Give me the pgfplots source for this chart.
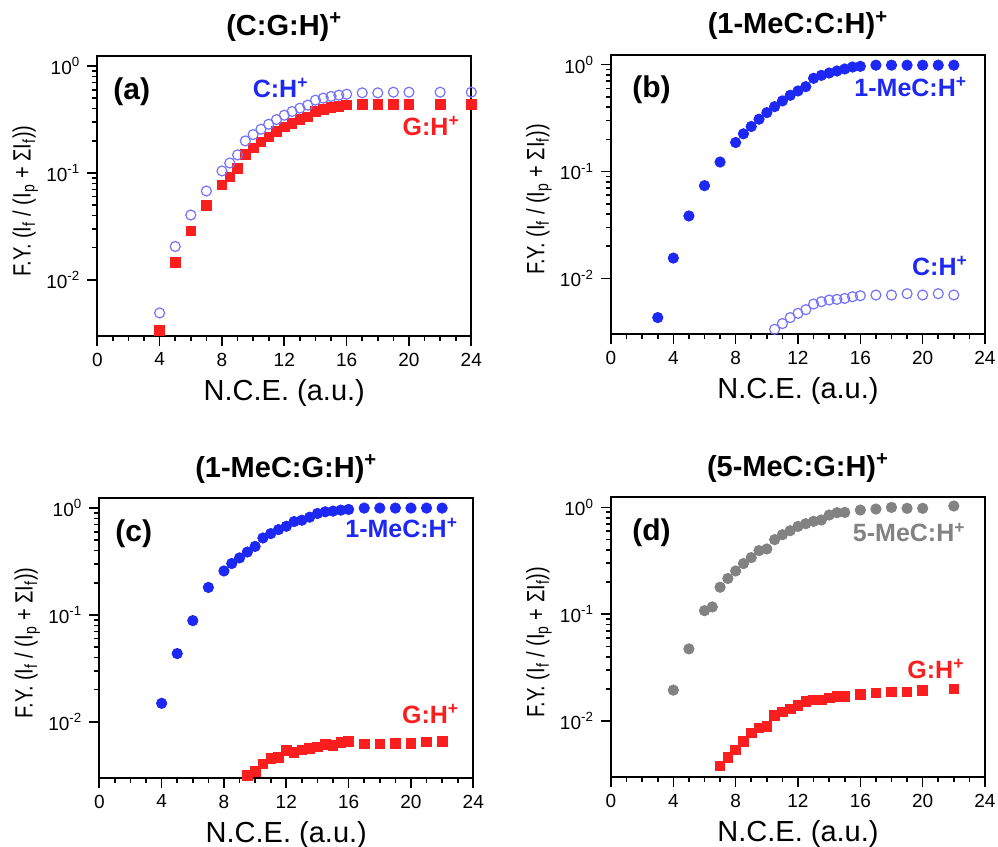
\documentclass[border=0pt]{standalone}
\usepackage{fontspec}
\setmainfont{Liberation Sans}
\usepackage{graphicx}
\usepackage{pgfplots}
\pgfplotsset{compat=1.18}
\definecolor{cblue}{RGB}{30,40,245}
\definecolor{copen}{RGB}{115,115,255}
\definecolor{cred}{RGB}{250,30,30}
\definecolor{cgray}{RGB}{130,130,130}
\tikzset{
  lbl/.style={font=\bfseries\fontsize{15}{17}\selectfont},
  ser/.style={font=\bfseries\fontsize{12.5}{14}\selectfont},
}
\pgfplotsset{
  filledc/.style={only marks, mark=*, mark size=2.6pt, mark options={draw=#1, fill=#1}},
  openc/.style={only marks, mark=o, mark size=2.5pt, mark options={draw=copen, line width=0.6pt}},
  sq/.style={only marks, mark=square*, mark size=2.4pt, mark options={draw=cred, fill=cred}},
  mypanel/.style={
  scale only axis, width=187pt, height=139.8pt,
  anchor=south west,
  ymin=0.003, ymax=1.24, xmin=0, xmax=24,
  xtick={0,4,...,24}, minor x tick num=3,
  ytick={0.01,0.1,1},
  yticklabels={10\textsuperscript{-2},10\textsuperscript{-1},10\textsuperscript{0}},
  xtick pos=bottom, ytick pos=left, tick align=outside,
  major tick length=5pt, minor tick length=2.5pt,
  axis line style={line width=1pt},
  every tick/.style={black, line width=0.8pt},
  tick label style={font=\fontsize{9.5}{11}\selectfont},
  xlabel={N.C.E. (a.u.)},
  ylabel={\scalebox{0.8}[1]{F.Y. (I\textsubscript{f} / (I\textsubscript{p} + ΣI\textsubscript{f}))}},
  xlabel style={font=\fontsize{14.5}{16}\selectfont, at={(axis description cs:0.5,-0.204)}, anchor=center},
  ylabel style={font=\fontsize{12.5}{14}\selectfont, at={(axis description cs:-0.1925,0.482)}, anchor=center},
  title style={font=\bfseries\fontsize{14.5}{16}\selectfont, at={(axis description cs:0.5,1)}, anchor=south, yshift=-2pt},
  },
}
\begin{document}
\begin{tikzpicture}
\path[use as bounding box] (0,0) rectangle (499pt,423.5pt);
% (a)
\begin{axis}[ymode=log, mypanel, /pgf/number format/assume math mode=true, at={(48.65pt,255.65pt)}, title={(C:G:H)\textsuperscript{+}}]
\addplot[sq] coordinates {(4,0.00335)(5,0.01454)(6,0.0286)(7,0.0494)(8,0.0772)(8.5,0.0917)(9,0.1106)(9.5,0.1496)(10,0.1714)(10.5,0.1954)(11,0.2176)(11.5,0.244)(12,0.27)(12.5,0.292)(13,0.316)(13.5,0.335)(14,0.376)(14.5,0.395)(15,0.41)(15.5,0.422)(16,0.434)(17,0.44)(18,0.44)(19,0.44)(20,0.44)(22,0.44)(24,0.44)};
\addplot[openc] coordinates {(4,0.0049)(5,0.0205)(6,0.0404)(7,0.0678)(8,0.1044)(8.5,0.124)(9,0.1476)(9.5,0.1995)(10,0.2286)(10.5,0.2565)(11,0.2858)(11.5,0.316)(12,0.347)(12.5,0.376)(13,0.404)(13.5,0.431)(14,0.48)(14.5,0.501)(15,0.52)(15.5,0.535)(16,0.546)(17,0.562)(18,0.562)(19,0.57)(20,0.57)(22,0.57)(24,0.57)};
\node[lbl, anchor=west] at (rel axis cs:0.024,0.873) {(a)};
\node[ser, anchor=west, text=cblue] at (rel axis cs:0.397,0.885) {C:H\textsuperscript{+}};
\node[ser, anchor=east, text=cred] at (rel axis cs:0.988,0.75) {G:H\textsuperscript{+}};
\end{axis}
% (b)
\begin{axis}[ymode=log, mypanel, /pgf/number format/assume math mode=true, at={(305.5pt,256.35pt)}, title={(1-MeC:C:H)\textsuperscript{+}}]
\addplot[openc] coordinates {(10,0.00295)(10.5,0.00334)(11,0.00378)(11.5,0.0043)(12,0.00471)(12.5,0.0051)(13,0.00576)(13.5,0.00606)(14,0.00628)(14.5,0.00637)(15,0.0065)(15.5,0.00674)(16,0.00689)(17,0.00699)(18,0.00699)(19,0.0072)(20,0.007)(21,0.0072)(22,0.007)};
\addplot[filledc=cblue] coordinates {(3,0.0043)(4,0.0155)(5,0.0384)(6,0.0738)(7,0.1227)(8,0.187)(8.5,0.2255)(9,0.264)(9.5,0.309)(10,0.356)(10.5,0.405)(11,0.458)(11.5,0.517)(12,0.568)(12.5,0.623)(13,0.746)(13.5,0.795)(14,0.836)(14.5,0.873)(15,0.912)(15.5,0.951)(16,0.965)(17,0.99)(18,0.99)(19,0.99)(20,0.99)(21,0.99)(22,0.99)};
\node[lbl, anchor=west] at (rel axis cs:0.038,0.873) {(b)};
\node[ser, anchor=east, text=cblue] at (rel axis cs:0.971,0.885) {1-MeC:H\textsuperscript{+}};
\node[ser, anchor=east, text=cblue] at (rel axis cs:0.973,0.244) {C:H\textsuperscript{+}};
\end{axis}
% (c)
\begin{axis}[ymode=log, mypanel, /pgf/number format/assume math mode=true, at={(49.65pt,34.65pt)}, title={(1-MeC:G:H)\textsuperscript{+}}]
\addplot[sq] coordinates {(9,0.0028)(9.5,0.00316)(10,0.00343)(10.5,0.00404)(11,0.00454)(11.5,0.00464)(12,0.0054)(12.5,0.00518)(13,0.00545)(13.5,0.00565)(14,0.00585)(14.5,0.00615)(15,0.00602)(15.5,0.00638)(16,0.00652)(17,0.0062)(18,0.0062)(19,0.0063)(20,0.0063)(21,0.0065)(22,0.0066)};
\addplot[filledc=cblue] coordinates {(4,0.0149)(5,0.0435)(6,0.0885)(7,0.181)(8,0.258)(8.5,0.303)(9,0.342)(9.5,0.388)(10,0.438)(10.5,0.525)(11,0.577)(11.5,0.629)(12,0.676)(12.5,0.748)(13,0.77)(13.5,0.822)(14,0.89)(14.5,0.923)(15,0.937)(15.5,0.957)(16,0.971)(17,1.0)(18,1.0)(19,1.0)(20,1.0)(21,1.0)(22,1.0)};
\node[lbl, anchor=west] at (rel axis cs:0.024,0.873) {(c)};
\node[ser, anchor=east, text=cblue] at (rel axis cs:0.978,0.894) {1-MeC:H\textsuperscript{+}};
\node[ser, anchor=east, text=cred] at (rel axis cs:0.981,0.227) {G:H\textsuperscript{+}};
\end{axis}
% (d)
\begin{axis}[ymode=log, mypanel, /pgf/number format/assume math mode=true, at={(305.5pt,35pt)}, title={(5-MeC:G:H)\textsuperscript{+}}]
\addplot[sq] coordinates {(7,0.0038)(7.5,0.00457)(8,0.0054)(8.5,0.0065)(9,0.00773)(9.5,0.00867)(10,0.00898)(10.5,0.01138)(11,0.0122)(11.5,0.0130)(12,0.0141)(12.5,0.0153)(13,0.0158)(13.5,0.0158)(14,0.0165)(14.5,0.0171)(15,0.0171)(16,0.0177)(17,0.0183)(18,0.0188)(19,0.0188)(20,0.0194)(22,0.0200)};
\addplot[filledc=cgray] coordinates {(4,0.0195)(5,0.0474)(6,0.108)(6.5,0.117)(7,0.179)(7.5,0.216)(8,0.254)(8.5,0.298)(9,0.339)(9.5,0.394)(10,0.408)(10.5,0.499)(11,0.555)(11.5,0.605)(12,0.664)(12.5,0.704)(13,0.74)(13.5,0.762)(14,0.848)(14.5,0.892)(15,0.898)(16,0.944)(17,0.965)(18,1.0)(19,0.98)(20,0.98)(22,1.03)};
\node[lbl, anchor=west] at (rel axis cs:0.038,0.873) {(d)};
\node[ser, anchor=east, text=cgray] at (rel axis cs:0.967,0.875) {5-MeC:H\textsuperscript{+}};
\node[ser, anchor=east, text=cred] at (rel axis cs:0.964,0.387) {G:H\textsuperscript{+}};
\end{axis}
\end{tikzpicture}
\end{document}
